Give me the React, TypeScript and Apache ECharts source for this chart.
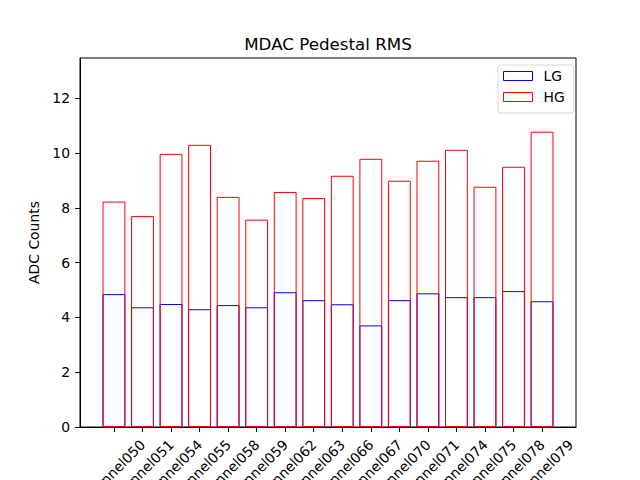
import React, { useEffect, useRef } from "react";
import * as echarts from "echarts";

const categories = [
  "channel050", "channel051", "channel054", "channel055", "channel058", "channel059",
  "channel062", "channel063", "channel066", "channel067", "channel070", "channel071",
  "channel074", "channel075", "channel078", "channel079",
];
const lgValues = [4.85, 4.37, 4.49, 4.30, 4.45, 4.37, 4.92, 4.63, 4.48, 3.71, 4.63, 4.88, 4.74, 4.74, 4.96, 4.59];
const hgValues = [8.23, 7.70, 9.97, 10.30, 8.40, 7.57, 8.58, 8.36, 9.17, 9.79, 8.99, 9.72, 10.12, 8.77, 9.50, 10.78];
const yTicks = [0, 2, 4, 6, 8, 10, 12];
const xTicks = categories.map((_, i) => i);

const FONT = "DejaVu Sans";

export default function App() {
  const ref = useRef<HTMLDivElement>(null);
  useEffect(() => {
    if (!ref.current) return;
    const chart = echarts.init(ref.current, null, { renderer: "svg" });
    chart.setOption({
      animation: false,
      backgroundColor: "#ffffff",
      title: {
        text: "MDAC Pedestal RMS",
        left: 328,
        textAlign: "center",
        top: 35,
        padding: 0,
        textStyle: { fontFamily: FONT, fontSize: 16.7, fontWeight: "normal", color: "#000" },
      },
      legend: {
        orient: "vertical",
        left: 498,
        top: 65,
        padding: [4, 9, 9, 5],
        itemGap: 7,
        itemWidth: 29,
        itemHeight: 9,
        icon: "rect",
        borderColor: "#d6d6d6",
        borderWidth: 1,
        borderRadius: 3,
        textStyle: { fontFamily: FONT, fontSize: 13.9, color: "#000", padding: [0, 0, 0, 6], lineHeight: 14 },
        data: [
          { name: "LG", itemStyle: { color: "transparent", borderColor: "#0000ff", borderWidth: 1 } },
          { name: "HG", itemStyle: { color: "transparent", borderColor: "#ff0000", borderWidth: 1 } },
        ],
      },
      grid: {
        left: 80,
        top: 58,
        right: 64,
        bottom: 53,
        containLabel: false,
        outerBoundsMode: "none",
        show: true,
        borderColor: "#000",
        borderWidth: 1,
        backgroundColor: "transparent",
      },
      xAxis: {
        type: "value",
        min: -1.19,
        max: 16.19,
        axisLine: { show: true, onZero: false, lineStyle: { color: "#000", width: 1 } },
        axisTick: { show: true, customValues: xTicks, length: 5, lineStyle: { color: "#000" } },
        splitLine: { show: false },
        axisLabel: {
          customValues: xTicks,
          rotate: 45,
          align: "center",
          verticalAlign: "middle",
          margin: 44,
          fontFamily: FONT,
          fontSize: 13.9,
          color: "#000",
          formatter: (v: number) => categories[Math.round(v)] ?? "",
        },
      },
      yAxis: {
        type: "value",
        min: 0,
        max: 13.47,
        name: "ADC Counts",
        nameLocation: "middle",
        nameGap: 29,
        nameTextStyle: { fontFamily: FONT, fontSize: 13.9, color: "#000" },
        axisLine: { show: true, onZero: false, lineStyle: { color: "#000", width: 1 } },
        axisTick: { show: true, customValues: yTicks, length: 5, lineStyle: { color: "#000" } },
        splitLine: { show: false },
        axisLabel: {
          customValues: yTicks,
          margin: 10,
          fontFamily: FONT,
          fontSize: 13.9,
          color: "#000",
        },
      },
      series: [
        {
          name: "LG",
          type: "bar",
          barWidth: "80%",
          barGap: "-100%",
          data: lgValues.map((v, i) => [i, v]),
          itemStyle: { color: "transparent", borderColor: "#0000ff", borderWidth: 1 },
        },
        {
          name: "HG",
          type: "bar",
          barWidth: "80%",
          barGap: "-100%",
          data: hgValues.map((v, i) => [i, v]),
          itemStyle: { color: "transparent", borderColor: "#ff0000", borderWidth: 1 },
        },
      ],
    });
    return () => chart.dispose();
  }, []);
  return (
    <div
      ref={ref}
      style={{ position: "fixed", left: 0, top: 0, width: 640, height: 480, background: "#fff" }}
    />
  );
}
